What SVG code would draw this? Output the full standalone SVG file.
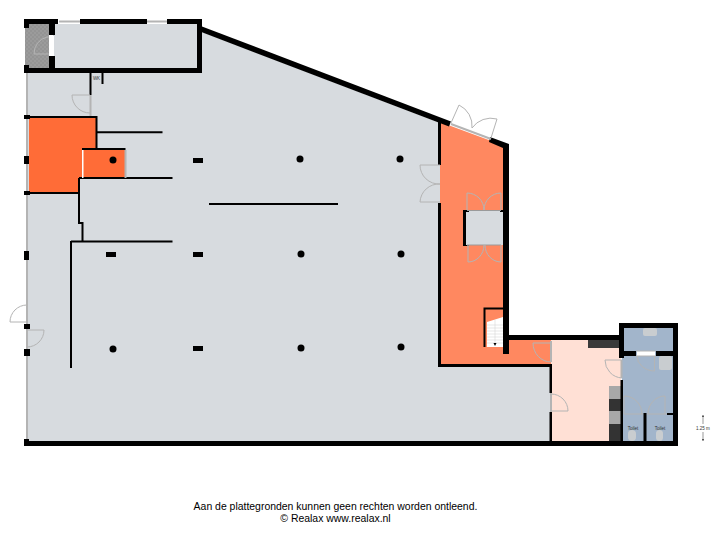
<svg xmlns="http://www.w3.org/2000/svg" width="720" height="540" viewBox="0 0 720 540">
<style>
.k{fill:#000}
.w{fill:none;stroke:#000;stroke-linecap:butt;stroke-linejoin:miter}
.d{fill:none;stroke:#b4b4b4;stroke-width:1}
.g{fill:none;stroke:#b4b4b4;stroke-width:2}
.t{font-family:"Liberation Sans",Arial,sans-serif;fill:#000}
.s{font-family:"Liberation Sans",Arial,sans-serif;fill:#333;font-size:4.500px}
</style>
<defs>
<pattern id="grid" width="4" height="4" patternUnits="userSpaceOnUse"><rect width="4" height="4" fill="#9b9b9b"/><path d="M0 1h2M2 3h2" stroke="#868686" stroke-width=".7"/></pattern>
</defs>
<rect width="720" height="540" fill="#fff"/>
<g id="floors">
<path d="M28 73H197V30L440 123V365H551V441H28Z" fill="#d7dbdf"/>
<rect x="53" y="24" width="146" height="46" fill="#d7dbdf"/>
<rect x="25" y="24" width="24" height="44" fill="url(#grid)"/>
<path d="M29 118H97V149H83V178H79V193H29Z" fill="#ff6c37"/>
<rect x="83" y="150" width="42" height="28" fill="#ff6c37"/>
<path d="M440 122L505 146V338H551V364H440Z" fill="#ff8860"/>
<rect x="465" y="211" width="38" height="34" fill="#d7dbdf"/>
<rect x="551" y="340" width="70" height="101" fill="#ffe0d5"/>
<rect x="622" y="326" width="52" height="115" fill="#a2b5cb"/>
</g>
<g id="fixtures">
<rect x="588" y="340" width="31" height="8" fill="#3a3a3a"/>
<rect x="609" y="386" width="12" height="13" fill="#a8a8a8"/>
<rect x="609" y="399" width="12" height="12" fill="#333"/>
<rect x="609" y="411" width="12" height="13" fill="#a8a8a8"/>
<rect x="609" y="424" width="12" height="17" fill="#333"/>
<rect x="643" y="328" width="14" height="8" rx="2" fill="#c9cdd0"/>
<rect x="659" y="356" width="13" height="14" rx="2" fill="#c9cdd0"/>
<rect x="628" y="430" width="8" height="11" rx="4" fill="#c9cdd0"/>
<rect x="656" y="430" width="7" height="11" rx="3.500" fill="#c9cdd0"/>
<path d="M487 322L503 317V347H487Z" fill="#fff"/>
<path d="M487 325H503M487 328H503M487 331H503M487 334H503M487 337H503M487 340H503M487 343H503M495 320V343" stroke="#ccc" stroke-width=".5" fill="none"/>
<path d="M493.500 343H496.500L495 346Z" fill="#000"/>
</g>
<g id="connectors">
<g id="walls">
<path class="k" d="M24 19H58V24H24ZM24 24H29V28H24ZM80 19H147V24H80ZM167 19H202V24H167ZM197 19H202V73H197ZM49 24H55V35H49ZM49 56H55V70H49ZM24 68H202V73H24ZM24 65H29V73H24Z"/>
<path class="w" stroke-width="5.500" d="M201 29L450 124"/>
<path class="k" d="M490 137L509 144V345H503V148L489 142Z"/>
<path class="k" d="M503 335H624V340H503ZM503 340H509V354H503ZM619 323H678V328H619ZM619 323H624V358H619ZM673 323H678V446H673ZM622 351H636V356H622ZM656 351H673V356H656ZM24 441H678V446H24ZM24 439H29V446H24Z"/>
<path class="k" d="M438 122H441V165H438ZM438 203H441V367H438ZM438 364H552V367H438ZM549.500 365H552V393H549.500ZM549.500 412H552V441H549.500ZM620.500 380H623V441H620.500ZM643.500 413H646.500V441H643.500ZM667 413H673V415H667ZM463 210H466V246H463ZM466 210H469V212H466ZM500 210H503V212H500ZM466 245H469V246H466Z"/>
<path class="w" stroke-width="2" d="M90.500 73V95M102.500 73V84M25 117H96.500V149M82 149H125.500M25 193H79M79 178V223H82.500V241M79 178H172.500M97 132.300H162.500M71 241.500H172.500M71 241V368M484.500 347V308.500H503"/>
<path class="w" stroke-width="2" d="M209 204H338"/>
<rect x="24" y="115" width="6" height="4" class="k"/>
<rect x="24" y="156" width="5" height="8" class="k"/>
<rect x="24" y="191" width="6" height="4" class="k"/>
<rect x="24" y="251" width="5" height="9" class="k"/>
<rect x="24" y="324" width="6" height="5" class="k"/>
<rect x="24" y="349" width="6" height="7" class="k"/>
</g>
<g id="windows">
<path class="g" d="M59 21.500H80M147 21.500H167M27 73V115M27 119V156M27 164V191M27 195V251M27 260V324M27 329V349M27 356V439M90.500 95V116M125.500 150V178M451 124L491 139M551 341V362M551 393V412M621.500 360V378"/>
<path d="M637 353.500H655" stroke="#fff" stroke-width="5"/>
<path d="M636 351H656M636 356H656M624 414H643M647 414H667" stroke="#b4b4b4" stroke-width="1"/>
<path d="M467 245H501M467 210.500H501" stroke="#9a9a9a" stroke-width="1"/>
<rect x="82" y="150" width="1.500" height="28" fill="#fff"/>
<rect x="50" y="36" width="4" height="20" fill="#fff"/>
</g>
<g id="doors">
<path class="d" d="M49 37H47A17 17 0 0 0 34 54H49"/>
<path class="d" d="M90 95H72A18 18 0 0 0 90 113"/>
<path class="d" d="M27 305A17 17 0 0 0 10 322H27M27 330H44A17 17 0 0 1 27 347"/>
<path class="d" d="M451 123L459 105A23 23 0 0 1 472 128M491 138L497 119A23 23 0 0 0 472 128"/>
<path class="d" d="M440 165H420A19 19 0 0 0 440 184A19 19 0 0 0 420 202H440"/>
<path class="d" d="M467 210V193A17 17 0 0 1 484 210M501 210V193A17 17 0 0 0 484 210M468 245V262A16 17 0 0 0 484 245M501 245V262A16 17 0 0 1 485 245"/>
<path class="d" d="M551 343H533A18 19 0 0 0 551 362M551 394A17 17 0 0 1 568 411H551M622 360H605A18 18 0 0 0 622 378M654.500 356V371A18 15 0 0 1 637 356M624 414V396A18 18 0 0 1 642 414M665 414V396A17 18 0 0 0 648 414"/>
</g>
</g>
<g id="columns" class="k">
<circle cx="113" cy="160" r="3.500"/><circle cx="300" cy="159" r="3.500"/><circle cx="400" cy="159" r="3.500"/>
<circle cx="301" cy="254" r="3.500"/><circle cx="401" cy="254" r="3.500"/>
<circle cx="113" cy="349" r="3.500"/><circle cx="301" cy="348" r="3.500"/><circle cx="401" cy="347" r="3.500"/>
<rect x="193" y="158" width="10" height="5"/><rect x="193" y="252" width="10" height="5"/>
<rect x="106" y="252" width="10" height="5"/><rect x="193" y="346" width="10" height="5"/>
</g>
<g id="labels">
<text class="s" x="96.500" y="80" text-anchor="middle">WK</text>
<text class="s" x="633" y="429.500" text-anchor="middle">Toilet</text>
<text class="s" x="660" y="429.500" text-anchor="middle">Toilet</text>
<text class="s" x="703" y="429.500" text-anchor="middle">1.25 m</text>
<path d="M703 415V424M703 432V441" stroke="#333" stroke-width=".5" fill="none"/>
<path d="M702 417L703 415L704 417ZM702 439L703 441L704 439Z" fill="#333"/>
<text class="t" x="335.500" y="510" font-size="10.450" text-anchor="middle">Aan de plattegronden kunnen geen rechten worden ontleend.</text>
<text class="t" x="335.500" y="521.500" font-size="10.450" text-anchor="middle">© Realax www.realax.nl</text>
</g>
</svg>
